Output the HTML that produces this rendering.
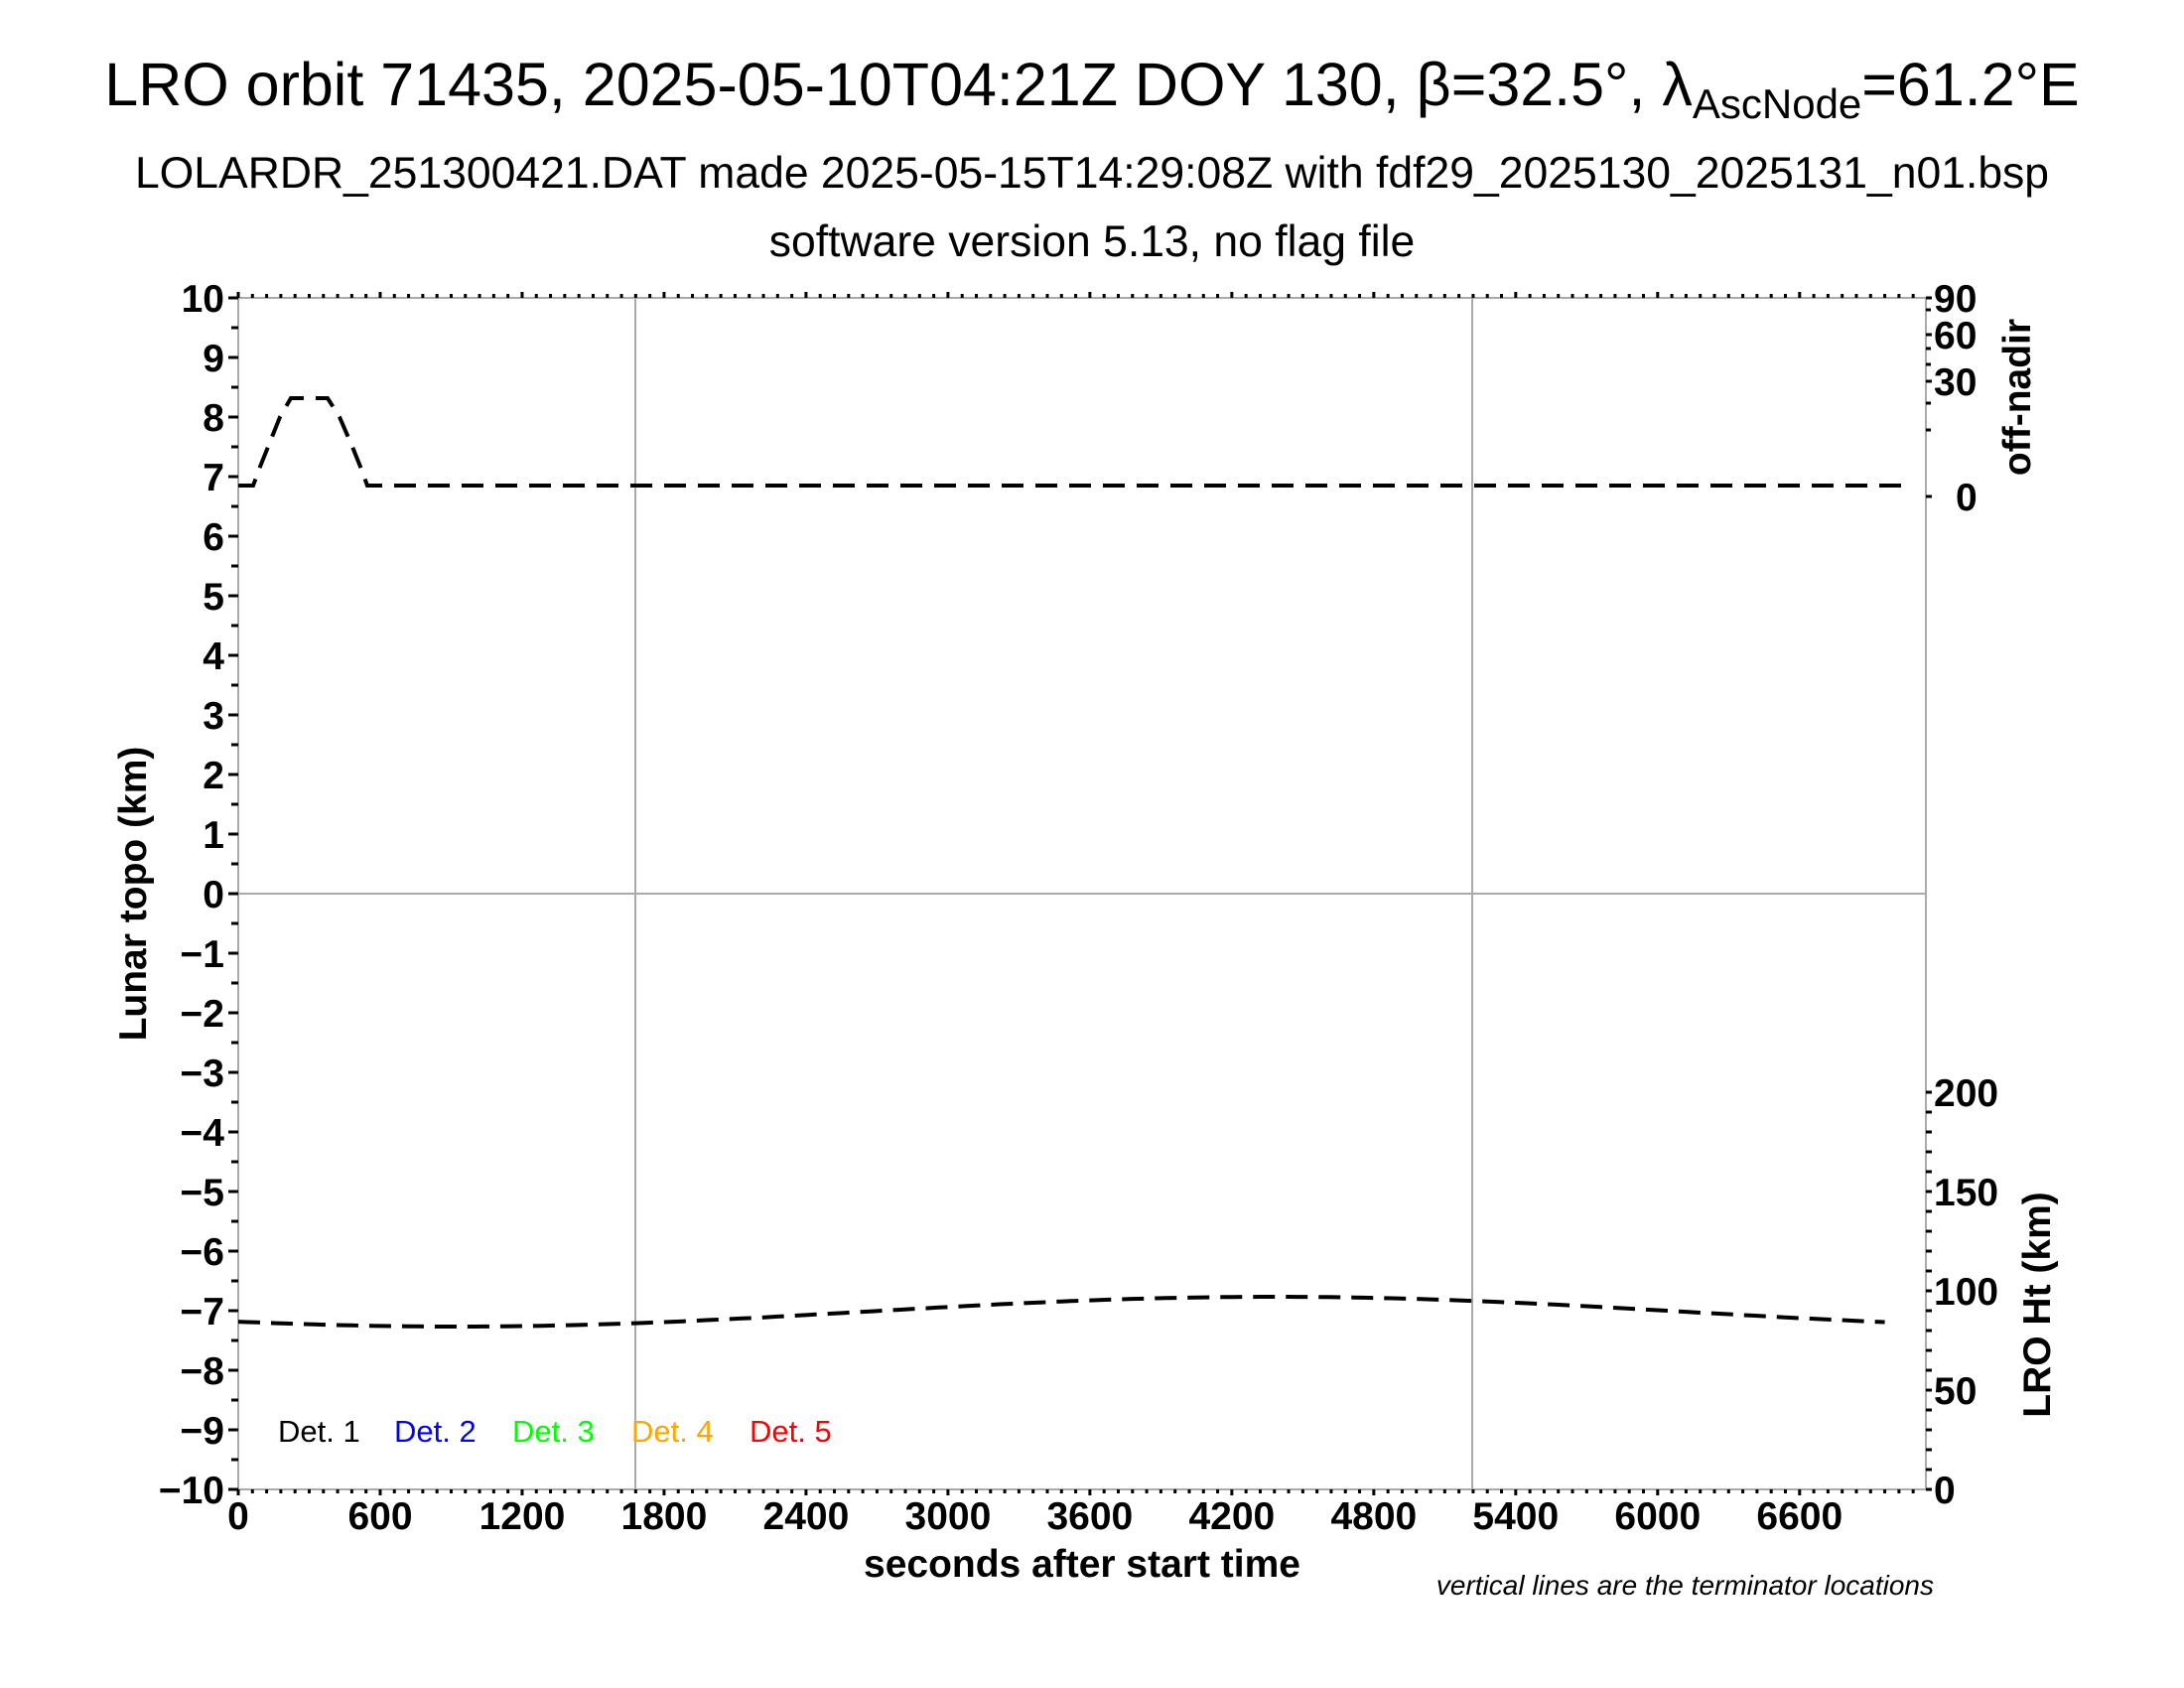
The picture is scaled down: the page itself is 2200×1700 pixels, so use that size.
<!DOCTYPE html>
<html><head><meta charset="utf-8"><style>
html,body{margin:0;padding:0;background:#fff}
svg{display:block}
text{font-family:"Liberation Sans",Arial,sans-serif}
.t{font-weight:bold;font-size:39px}
</style></head><body>
<svg id="s" width="2200" height="1700" xmlns="http://www.w3.org/2000/svg">
<text x="1100" y="106" text-anchor="middle" font-size="61">LRO orbit 71435, 2025-05-10T04:21Z DOY 130, β=32.5°, λ<tspan font-size="42" dy="13">AscNode</tspan><tspan dy="-13">=61.2°E</tspan></text>
<text x="1100" y="189" text-anchor="middle" font-size="44.5">LOLARDR_251300421.DAT made 2025-05-15T14:29:08Z with fdf29_2025130_2025131_n01.bsp</text>
<text x="1100" y="258" text-anchor="middle" font-size="44.5">software version 5.13, no flag file</text>
<g stroke="#aaa" stroke-width="2" fill="none">
<rect x="240" y="300" width="1700" height="1200"/>
<line x1="240" y1="900" x2="1940" y2="900"/>
<line x1="640" y1="300" x2="640" y2="1500"/>
<line x1="1483" y1="300" x2="1483" y2="1500"/>
</g>
<g id="ticks" stroke="#000" stroke-width="3"></g>
<g id="labels" class="t"></g>
<text class="t" transform="translate(147,900) rotate(-90)" text-anchor="middle">Lunar topo (km)</text>
<text class="t" transform="translate(2045,400) rotate(-90)" text-anchor="middle">off-nadir</text>
<text class="t" transform="translate(2065,1314) rotate(-90)" text-anchor="middle">LRO Ht (km)</text>
<text class="t" x="1090" y="1588" text-anchor="middle">seconds after start time</text>
<text x="1948" y="1606" text-anchor="end" font-size="28" font-style="italic">vertical lines are the terminator locations</text>
<g font-size="31">
<text x="280" y="1452">Det. 1</text>
<text x="397" y="1452" fill="#00f">Det. 2</text>
<text x="516" y="1452" fill="#0f0">Det. 3</text>
<text x="636" y="1452" fill="#ffa500">Det. 4</text>
<text x="755" y="1452" fill="#f00">Det. 5</text>
</g>
<path d="M240,489 L255,489 L262,470 L272,445 L282,420 L293,401 L330,401 L342,420 L355,450 L363,470 L370,489 L1921,489" fill="none" stroke="#000" stroke-width="4" stroke-dasharray="22,12"/>
<path id="low" fill="none" stroke="#000" stroke-width="4" stroke-dasharray="22,11"/>
</svg>
<script>
var NS="http://www.w3.org/2000/svg",tk=document.getElementById('ticks'),lb=document.getElementById('labels');
function L(x1,y1,x2,y2){var l=document.createElementNS(NS,'line');l.setAttribute('x1',x1);l.setAttribute('y1',y1);l.setAttribute('x2',x2);l.setAttribute('y2',y2);tk.appendChild(l);}
function T(x,y,s,a){var t=document.createElementNS(NS,'text');t.setAttribute('x',x);t.setAttribute('y',y);t.setAttribute('text-anchor',a);t.textContent=s;lb.appendChild(t);}
var sx=0.2383;
for(var t=0;t*sx<=1700;t+=60){var x=240+t*sx,big=t%600==0;L(x,1500,x,1500+(big?6:4));L(x,300,x,300-(big?6:4));
 if(big&&t<=6600)T(x,1540,String(t),'middle');}
for(var v=-10;v<=10;v+=0.5){var y=900-v*60;L(240,y,v%1==0?230:233,y);if(v%1==0)T(226,y+14,(v<0?'\u2212':'')+Math.abs(v),'end');}
for(var h=0;h<=200;h+=10){var y=1500-h*2;L(1940,y,1946,y);if(h%50==0)T(1948,y+14,String(h),'start');}
[[300,'90'],[337,'60'],[384,'30'],[500,'0']].forEach(function(a){L(1940,a[0],1946,a[0]);T(a[1]=='0'?1970:1948,a[0]+14,a[1],'start');});
[312,351,367,406,433].forEach(function(y){L(1940,y,1945,y);});
var d='';for(var t=0;t<=6990;t+=40){var x=240+t*sx,y=1321-15*Math.cos(2*Math.PI*(t-4380)/6920);d+=(t?'L':'M')+x.toFixed(1)+','+y.toFixed(1);}
document.getElementById('low').setAttribute('d',d);
</script>
</body></html>
